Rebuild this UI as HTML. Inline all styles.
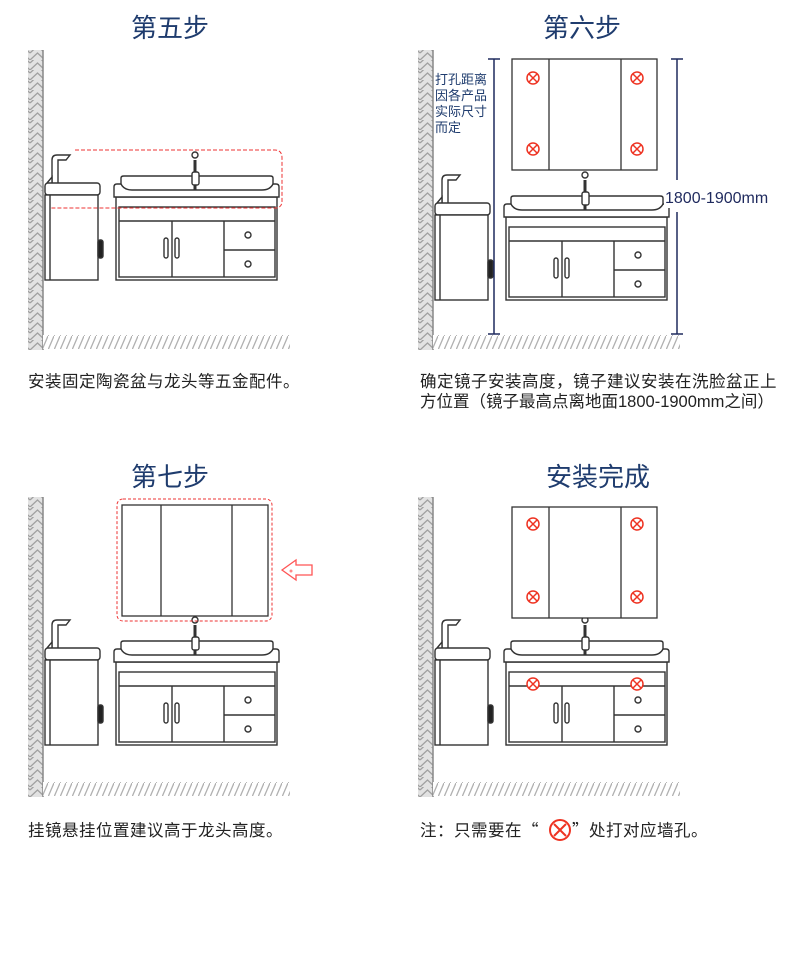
<!DOCTYPE html>
<html><head><meta charset="utf-8"><style>
html,body{margin:0;padding:0;background:#fff;}
svg{display:block;}
.t{font-family:"Liberation Sans","Noto Sans CJK SC",sans-serif;}
.c{font-family:"Noto Sans CJK SC",sans-serif;}
</style></head><body>
<svg width="800" height="954" viewBox="0 0 800 954" xmlns="http://www.w3.org/2000/svg">
<defs>
<pattern id="hw" width="15" height="10" patternUnits="userSpaceOnUse">
<rect width="15" height="10" fill="#e2e2e2"/>
<path d="M0 10 L7.5 3 L15 10 M0 3 L7.5 -4 L15 3" stroke="#a0a0a0" stroke-width="1.3" fill="none"/>
</pattern>
<pattern id="hf" width="6" height="14" patternUnits="userSpaceOnUse">
<rect width="6" height="14" fill="#fff"/>
<path d="M0 14 L6 0" stroke="#b0b0b0" stroke-width="1.3"/>
</pattern>
<g id="W">
<rect x="28" y="50" width="15" height="300" fill="url(#hw)"/>
<line x1="43" y1="50" x2="43" y2="350" stroke="#888" stroke-width="1.5"/>
<rect x="43" y="335" width="247" height="14" fill="url(#hf)"/>
</g>
<g id="C" fill="#fff" stroke="#333" stroke-width="1.4">
<path d="M52 183 V160 Q52 155 57 155 H70 L66 160 H58 V183" />
<path d="M47 183 L52 177 V183"/>
<rect x="45" y="183" width="55" height="12" rx="3"/>
<rect x="45" y="195" width="53" height="85"/>
<line x1="50" y1="195" x2="50" y2="280"/>
<rect x="98" y="240" width="5" height="18" rx="2" fill="#222"/>
<rect x="116" y="197" width="161" height="83"/>
<rect x="119" y="207" width="156" height="70"/>
<line x1="119" y1="221" x2="275" y2="221"/>
<line x1="172" y1="221" x2="172" y2="277"/>
<line x1="224" y1="221" x2="224" y2="277"/>
<line x1="224" y1="250" x2="275" y2="250"/>
<rect x="164" y="238" width="4" height="20" rx="2"/>
<rect x="175" y="238" width="4" height="20" rx="2"/>
<circle cx="248" cy="235" r="3"/>
<circle cx="248" cy="264" r="3"/>
<path d="M114 197 V187 Q114 184 117 184 L121 184 V178 Q121 176 124 176 H270 Q273 176 273 178 V184 H276 Q279 184 279 187 V197 Z"/>
<path d="M121 184 Q124 190 132 190 H262 Q270 190 273 184" fill="none"/>
<line x1="195" y1="160" x2="195" y2="190" stroke-width="3"/>
<rect x="192" y="172" width="7" height="13" rx="2" fill="#fff"/>
<circle cx="195" cy="155" r="3"/>
</g>
<g id="X" stroke="#e32" fill="#fff" stroke-width="1.5">
<circle r="6"/><path d="M-4 -4 L4 4 M4 -4 L-4 4"/>
</g>
</defs>

<text class="t" x="170" y="37" font-size="26" fill="#1f3c6e" text-anchor="middle">第五步</text>
<use href="#W"/>
<use href="#C"/>
<path d="M75 150 H275 Q282 150 282 158 V201 Q282 208 275 208 H50" fill="none" stroke="#e33" stroke-width="1" stroke-dasharray="4,2"/>
<text class="t" x="28" y="387" font-size="16.5" letter-spacing="0.5" fill="#222">安装固定陶瓷盆与龙头等五金配件。</text>

<text class="t" x="582" y="37" font-size="26" fill="#1f3c6e" text-anchor="middle">第六步</text>
<use href="#W" x="390"/>
<use href="#C" x="390" y="20"/>
<g fill="#fff" stroke="#333" stroke-width="1.3">
<rect x="512" y="59" width="145" height="111"/>
<line x1="549" y1="59" x2="549" y2="170"/><line x1="621" y1="59" x2="621" y2="170"/>
</g>
<use href="#X" x="533" y="78"/><use href="#X" x="637" y="78"/>
<use href="#X" x="533" y="149"/><use href="#X" x="637" y="149"/>
<g stroke="#1f2a5e" stroke-width="1.5">
<line x1="494" y1="59" x2="494" y2="334"/><line x1="488" y1="59" x2="500" y2="59"/><line x1="488" y1="334" x2="500" y2="334"/>
<line x1="677" y1="59" x2="677" y2="180"/><line x1="677" y1="212" x2="677" y2="334"/>
<line x1="671" y1="59" x2="683" y2="59"/><line x1="671" y1="334" x2="683" y2="334"/>
</g>
<rect x="664" y="184" width="120" height="24" fill="#fff"/>
<text class="t" x="665" y="203" font-size="16" fill="#1f2a5e">1800-1900mm</text>
<g class="t" font-size="13" fill="#1f3c6e">
<text x="435" y="84">打孔距离</text><text x="435" y="100">因各产品</text>
<text x="435" y="116">实际尺寸</text><text x="435" y="132">而定</text>
</g>
<text class="t" x="420" y="387" font-size="16.5" letter-spacing="0.5" fill="#222">确定镜子安装高度，镜子建议安装在洗脸盆正上</text>
<text class="t" x="420" y="407" font-size="16.5" letter-spacing="0" fill="#222">方位置（镜子最高点离地面1800-1900mm之间）</text>

<text class="t" x="170" y="486" font-size="26" fill="#1f3c6e" text-anchor="middle">第七步</text>
<use href="#W" y="447"/>
<use href="#C" y="465"/>
<g fill="#fff" stroke="#333" stroke-width="1.3">
<rect x="122" y="505" width="146" height="111"/>
<line x1="161" y1="505" x2="161" y2="616"/><line x1="232" y1="505" x2="232" y2="616"/>
</g>
<rect x="117" y="499" width="155" height="122" rx="6" fill="none" stroke="#e33" stroke-width="1" stroke-dasharray="3,2"/>
<path d="M282 570 L296 560 V565 H312 V575 H296 V580 Z" fill="#fff" stroke="#f55" stroke-width="1.3"/>
<circle cx="291" cy="571" r="1.5" fill="#f88"/>
<text class="t" x="28" y="836" font-size="16.5" letter-spacing="0.5" fill="#222">挂镜悬挂位置建议高于龙头高度。</text>

<text class="t" x="598" y="486" font-size="26" fill="#1f3c6e" text-anchor="middle">安装完成</text>
<use href="#W" x="390" y="447"/>
<use href="#C" x="390" y="465"/>
<g fill="#fff" stroke="#333" stroke-width="1.3">
<rect x="512" y="507" width="145" height="111"/>
<line x1="549" y1="507" x2="549" y2="618"/><line x1="621" y1="507" x2="621" y2="618"/>
</g>
<use href="#X" x="533" y="524"/><use href="#X" x="637" y="524"/>
<use href="#X" x="533" y="597"/><use href="#X" x="637" y="597"/>
<use href="#X" x="533" y="684"/><use href="#X" x="637" y="684"/>
<text class="t" x="420" y="836" font-size="16.5" letter-spacing="0.5" fill="#222">注：只需要在<tspan class="c">“</tspan></text>
<g transform="translate(560,830)" stroke="#e32" fill="#fff" stroke-width="2"><circle r="10"/><path d="M-6 -6 L6 6 M6 -6 L-6 6"/></g>
<text class="t" x="572" y="836" font-size="16.5" letter-spacing="0.5" fill="#222"><tspan class="c">”</tspan>处打对应墙孔。</text>
</svg>
</body></html>
